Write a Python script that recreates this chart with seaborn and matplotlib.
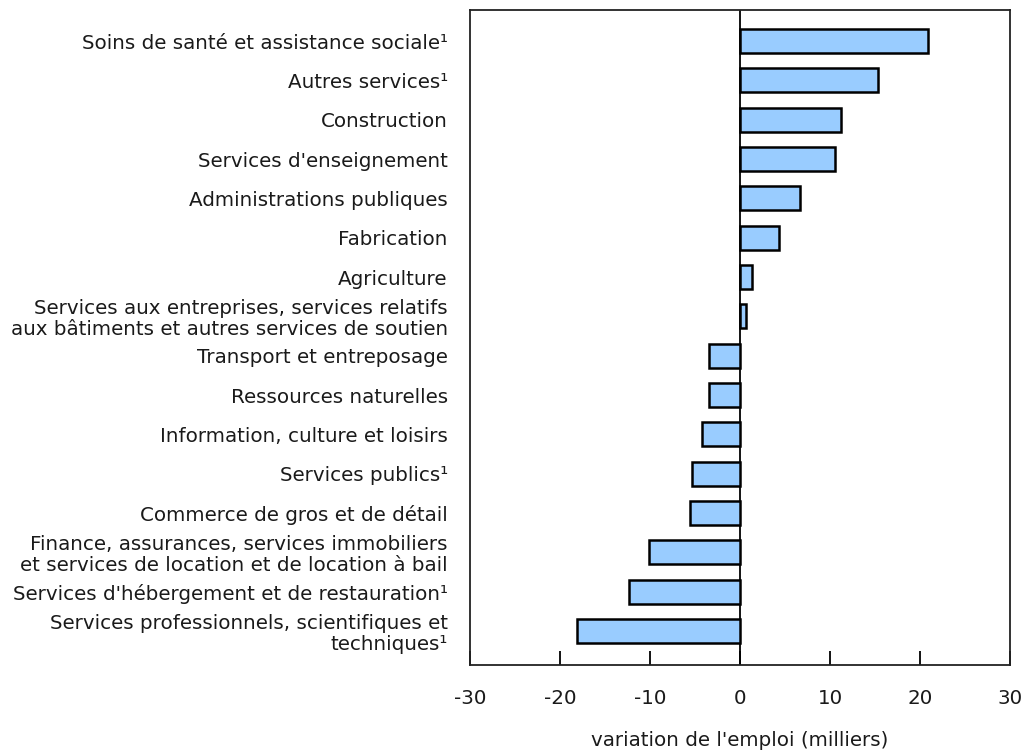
import matplotlib
matplotlib.use("Agg")
import matplotlib.pyplot as plt
import seaborn as sns
import pandas as pd

categories = [
    "Soins de santé et assistance sociale¹",
    "Autres services¹",
    "Construction",
    "Services d'enseignement",
    "Administrations publiques",
    "Fabrication",
    "Agriculture",
    "Services aux entreprises, services relatifs\naux bâtiments et autres services de soutien",
    "Transport et entreposage",
    "Ressources naturelles",
    "Information, culture et loisirs",
    "Services publics¹",
    "Commerce de gros et de détail",
    "Finance, assurances, services immobiliers\net services de location et de location à bail",
    "Services d'hébergement et de restauration¹",
    "Services professionnels, scientifiques et\ntechniques¹",
]
values = [20.9, 15.3, 11.2, 10.6, 6.7, 4.3, 1.3, 0.7, -3.4, -3.5, -4.2, -5.3, -5.6, -10.1, -12.3, -18.1]
xticks = [-30, -20, -10, 0, 10, 20, 30]
xlabel = "variation de l'emploi (milliers)"

df = pd.DataFrame({"cat": categories, "val": values})

sns.set_theme(style="white")
plt.rcParams['font.family'] = ['DejaVu Sans']

fig = plt.figure(figsize=(10.24, 7.53), dpi=100)
ax = fig.add_axes([470/1024, 1-665/753, 540/1024, 655/753])

sns.barplot(data=df, x="val", y="cat", orient="h", color="#99ccff",
            edgecolor="black", linewidth=1.8, width=0.61, saturation=1, ax=ax)

FS = 14.3
ax.set_xlim(-30, 30)
ax.set_ylim(15.865, -0.79)
ax.set_xticks(xticks)
ax.set_xticklabels([str(t) for t in xticks], fontsize=FS)
ax.axvline(0, color="black", linewidth=1.3, zorder=0.5)
ax.tick_params(axis="x", bottom=True, direction="in", length=10, width=1.3, pad=17, colors="black")
ax.tick_params(axis="y", left=False, length=0, pad=16)
for lab in ax.get_yticklabels():
    lab.set_fontsize(FS)
    lab.set_color("#1a1a1a")
    lab.set_multialignment("right")
    lab.set_linespacing(1.12)
for lab in ax.get_xticklabels():
    lab.set_color("#1a1a1a")
ax.set_ylabel("")
ax.set_xlabel(xlabel, fontsize=FS, labelpad=17, color="#1a1a1a")
for sp in ax.spines.values():
    sp.set_visible(True)
    sp.set_color("#222222")
    sp.set_linewidth(1.3)

fig.savefig("out.png", dpi=100)
